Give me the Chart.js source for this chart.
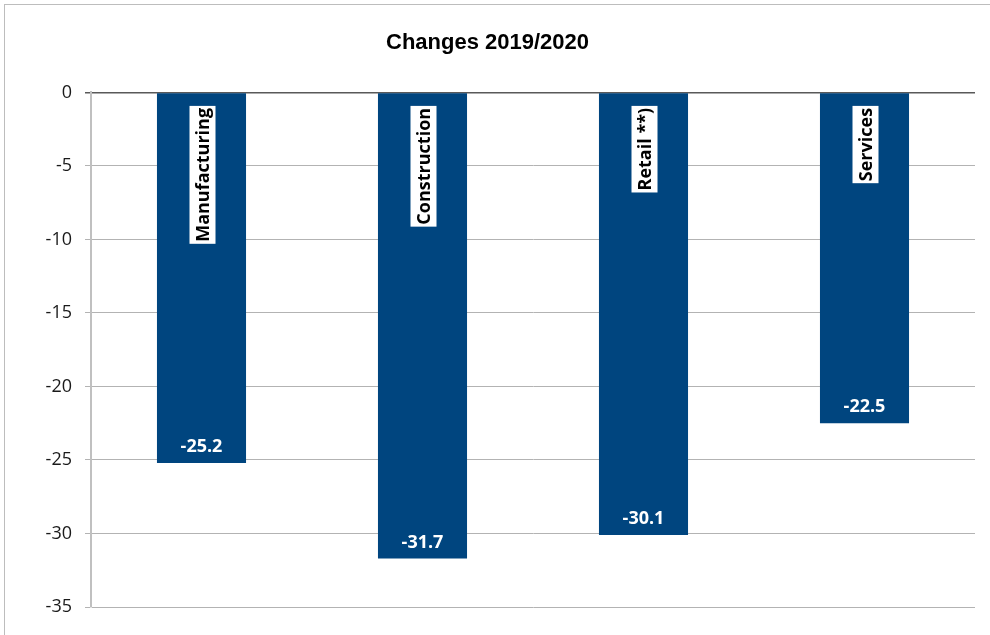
<!DOCTYPE html>
<html>
<head>
<meta charset="utf-8">
<script src="https://cdn.jsdelivr.net/npm/chart.js@4/dist/chart.umd.min.js"></script>
<style>
  html, body { margin: 0; padding: 0; background: #fff; overflow: hidden; }
  #frame {
    position: absolute; left: 4px; top: 4px; width: 1000px; height: 700px;
    border: 1px solid #bdbdbd; box-sizing: border-box;
  }
  #resultsChart { position: absolute; left: 0; top: 0; }
</style>
</head>
<body>
<div id="frame"></div>
<canvas id="resultsChart" width="990" height="635"></canvas>
<script>
'use strict';

const sectors = ['Manufacturing', 'Construction', 'Retail **)', 'Services'];
const changes = [-25.2, -31.7, -30.1, -22.5];
const yTicks = [0, -5, -10, -15, -20, -25, -30, -35];

const tickFont = 'Open Sans, DejaVu Sans, sans-serif';
const barColor = '#00457f';

// category name inside the bar (rotated, white box) and value near the bar end
const barLabels = {
  id: 'barLabels',
  afterDatasetsDraw(chart) {
    const ctx = chart.ctx;
    const meta = chart.getDatasetMeta(0);
    const zeroY = chart.scales.y.getPixelForValue(0);

    meta.data.forEach((bar, i) => {
      ctx.save();
      ctx.font = 'bold 18px ' + tickFont;
      let w = ctx.measureText(sectors[i]).width;
      ctx.translate(bar.x + 1, zeroY + 15.5);
      ctx.rotate(-Math.PI / 2);
      ctx.fillStyle = '#fff';
      ctx.fillRect(-w - 2, -13, w + 4, 26);
      ctx.fillStyle = '#000';
      ctx.textAlign = 'right';
      ctx.textBaseline = 'middle';
      ctx.fillText(sectors[i], 0, 1);
      ctx.restore();

      ctx.save();
      ctx.font = 'bold 18px ' + tickFont;
      ctx.fillStyle = '#fff';
      ctx.textAlign = 'center';
      ctx.textBaseline = 'middle';
      ctx.fillText(changes[i].toFixed(1), bar.x, bar.y - 16);
      ctx.restore();
    });
  },
};

new Chart(document.getElementById('resultsChart'), {
  type: 'bar',
  data: {
    labels: sectors,
    datasets: [{
      data: changes,
      backgroundColor: barColor,
      borderWidth: 0,
      categoryPercentage: 1,
      barPercentage: 0.403,
    }],
  },
  options: {
    responsive: false,
    animation: false,
    devicePixelRatio: 1,
    layout: {
      padding: {top: 0, right: 15, bottom: 28, left: 0},
    },
    scales: {
      x: {
        display: false,
      },
      y: {
        min: Math.min(...yTicks),
        max: Math.max(...yTicks),
        afterFit(scale) { scale.width = 91; },
        afterBuildTicks(scale) { scale.ticks = yTicks.map(v => ({value: v})); },
        ticks: {
          padding: 13,
          color: '#1a1a1a',
          font: {family: tickFont, size: 18},
        },
        grid: {
          tickLength: 6,
          color: (c) => (c.tick && c.tick.value === 0 ? '#595959' : '#b3b3b3'),
          lineWidth: (c) => (c.tick && c.tick.value === 0 ? 1.5 : 1),
        },
        border: {
          color: '#c0c0c0',
          width: 2,
        },
      },
    },
    plugins: {
      legend: {display: false},
      tooltip: {enabled: false},
      title: {
        display: true,
        text: 'Changes 2019/2020',
        color: '#000',
        padding: {top: 30, bottom: 36},
        font: {family: 'Liberation Sans, Arial, sans-serif', size: 22, weight: 'bold', lineHeight: 1.2},
      },
    },
  },
  plugins: [barLabels],
});
</script>
</body>
</html>
